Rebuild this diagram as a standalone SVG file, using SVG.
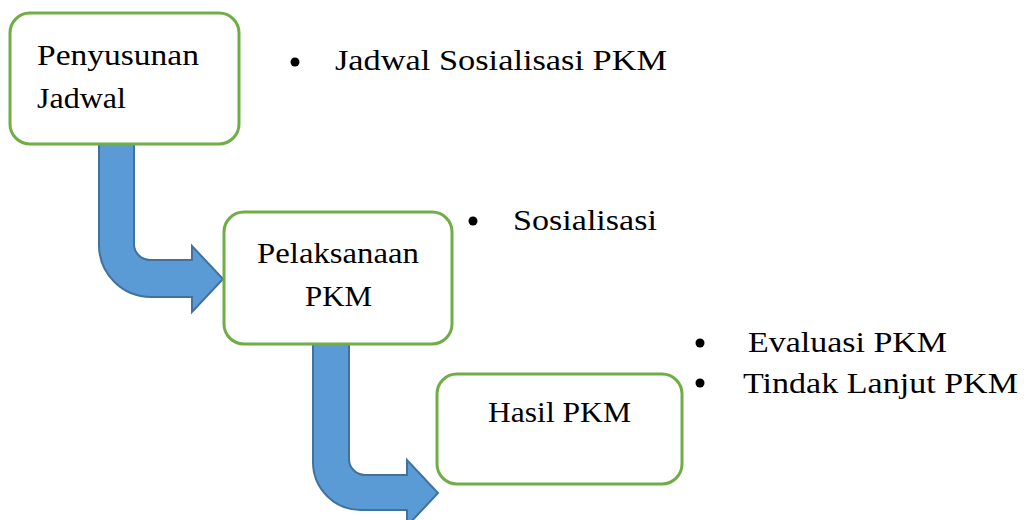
<svg xmlns="http://www.w3.org/2000/svg" width="1024" height="520" viewBox="0 0 1024 520">
<style>
.box{fill:#fff;stroke:#70ad47;stroke-width:3}
.arr{fill:#5b9bd5;stroke:#41719c;stroke-width:2;stroke-linejoin:miter}
.t{font-family:"Liberation Serif","Times New Roman",serif;font-size:29px;fill:#000}
.dot{fill:#000}
</style>
<rect width="1024" height="520" fill="#fff"/>
<g id="connectors">
<path class="arr" d="M99,143 L99,245 A52,52 0 0 0 151,297 L192,297 L192,312 L223,279 L192,246 L192,260 L150,260 A16,16 0 0 1 134,244 L134,143 Z"/>
<path class="arr" d="M313,342 L313,462 A48,48 0 0 0 361,510 L407,510 L407,526 L438,493 L407,460 L407,475 L365,475 A16,16 0 0 1 349,459 L349,342 Z"/>
</g>
<g id="node-penyusunan">
<rect class="box" x="10" y="13" width="229" height="131" rx="20"/>
<text class="t" x="37" y="65" textLength="162" lengthAdjust="spacingAndGlyphs">Penyusunan</text>
<text class="t" x="37" y="108" textLength="89" lengthAdjust="spacingAndGlyphs">Jadwal</text>
</g>
<g id="node-pelaksanaan">
<rect class="box" x="224" y="212" width="228" height="132" rx="20"/>
<text class="t" x="257" y="263" textLength="162" lengthAdjust="spacingAndGlyphs">Pelaksanaan</text>
<text class="t" x="305" y="306" textLength="67" lengthAdjust="spacingAndGlyphs">PKM</text>
</g>
<g id="node-hasil">
<rect class="box" x="437" y="374" width="245" height="110" rx="20"/>
<text class="t" x="488" y="422" textLength="143" lengthAdjust="spacingAndGlyphs">Hasil PKM</text>
</g>
<g id="bullets">
<circle class="dot" cx="295" cy="62" r="4.5"/>
<text class="t" x="335" y="70" textLength="332" lengthAdjust="spacingAndGlyphs">Jadwal Sosialisasi PKM</text>
<circle class="dot" cx="473" cy="221" r="4.5"/>
<text class="t" x="513" y="230" textLength="144" lengthAdjust="spacingAndGlyphs">Sosialisasi</text>
<circle class="dot" cx="700" cy="343" r="4.5"/>
<text class="t" x="748" y="352" textLength="199" lengthAdjust="spacingAndGlyphs">Evaluasi PKM</text>
<circle class="dot" cx="700" cy="383" r="4.5"/>
<text class="t" x="743" y="393" textLength="275" lengthAdjust="spacingAndGlyphs">Tindak Lanjut PKM</text>
</g>
</svg>
